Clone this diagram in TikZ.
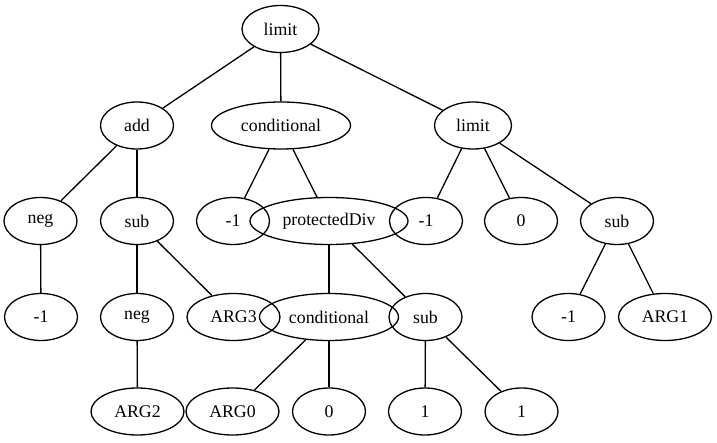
\documentclass[tikz,border=0pt]{standalone}
\usepackage{fontspec}
\setmainfont{Liberation Serif}
\usetikzlibrary{shapes.geometric}
\begin{document}
\begin{tikzpicture}[x=1pt,y=-1pt,
  gv/.style={ellipse, draw, line width=1.3pt, minimum width=73pt, minimum height=47pt,
    inner sep=0pt, font=\fontsize{17.8}{20}\selectfont},
  wide/.style={gv, minimum width=93pt},
  edge/.style={line width=1.3pt}]
\useasboundingbox (0,0) rectangle (717,443);
% level 0
\node[gv, minimum width=77pt] (r) at (280.5,29) {limit};
% level 1
\node[gv] (add) at (137,125.5) {add};
\node[gv, minimum width=139pt] (c1) at (281,125.5) {conditional};
\node[gv, minimum width=77pt] (l1) at (473,125.5) {limit};
% level 2
\node[gv] (neg1) at (40.5,221) {neg};
\node[gv] (sub1) at (137,221) {sub};
\node[gv] (ma) at (233,221) {-1};
\node[gv, minimum width=158pt] (pd) at (329,221) {protectedDiv};
\node[gv] (mb) at (426,221) {-1};
\node[gv] (za) at (521,221) {0};
\node[gv] (sub2) at (617,221) {sub};
% level 3
\node[gv] (mc) at (41,317) {-1};
\node[gv] (neg2) at (137,317) {neg};
\node[wide] (arg3) at (233.5,317) {ARG3};
\node[gv, minimum width=139pt] (c2) at (329,317) {conditional};
\node[gv] (sub3) at (425.5,317) {sub};
\node[gv] (md) at (568.5,317) {-1};
\node[wide] (arg1) at (665,317) {ARG1};
% level 4
\node[wide] (arg2) at (137.5,411.5) {ARG2};
\node[wide] (arg0) at (232.5,411.5) {ARG0};
\node[gv] (zb) at (329,411.5) {0};
\node[gv] (oa) at (425,411.5) {1};
\node[gv] (ob) at (521.5,411.5) {1};
% edges
\draw[edge] (r) -- (add);
\draw[edge] (r) -- (c1);
\draw[edge] (r) -- (l1);
\draw[edge] (add) -- (neg1);
\draw[edge] (add) -- (sub1);
\draw[edge] (neg1) -- (mc);
\draw[edge] (sub1) -- (neg2);
\draw[edge] (sub1) -- (arg3);
\draw[edge] (neg2) -- (arg2);
\draw[edge] (c1) -- (ma);
\draw[edge] (c1) -- (pd);
\draw[edge] (pd) -- (c2);
\draw[edge] (pd) -- (sub3);
\draw[edge] (c2) -- (arg0);
\draw[edge] (c2) -- (zb);
\draw[edge] (sub3) -- (oa);
\draw[edge] (sub3) -- (ob);
\draw[edge] (l1) -- (mb);
\draw[edge] (l1) -- (za);
\draw[edge] (l1) -- (sub2);
\draw[edge] (sub2) -- (md);
\draw[edge] (sub2) -- (arg1);
\end{tikzpicture}
\end{document}
